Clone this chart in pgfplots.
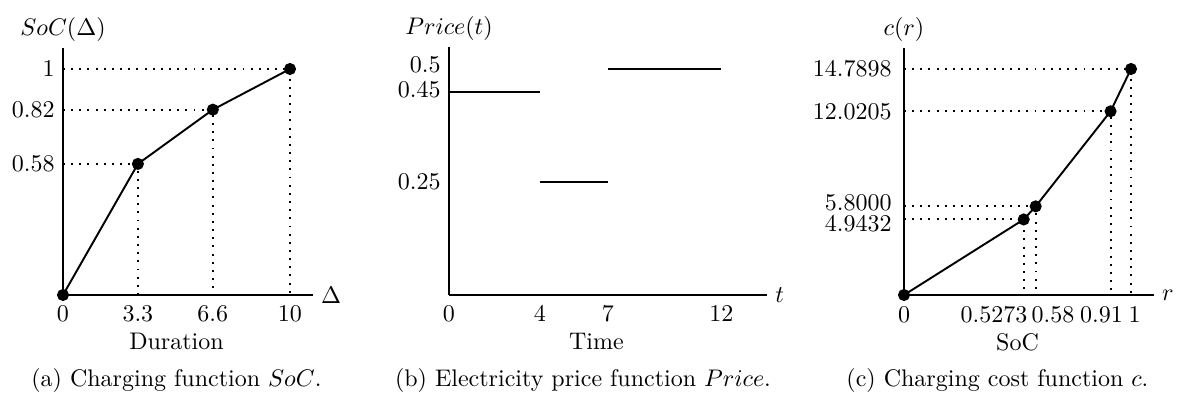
\documentclass[border=0pt]{standalone}
\usepackage{pgfplots}
\pgfplotsset{compat=1.18}

\pgfplotsset{
  fnplot/.style={
    axis lines=left,
    axis line style={-,line width=0.9pt},
    major tick length=0pt,
    clip=false,
    xmin=0, ymin=0,
    anchor=south west,
    every axis plot/.append style={line width=0.8pt},
    xticklabel style={yshift=-1pt},
    xlabel style={at={(ticklabel cs:0.4545)},anchor=north,yshift=2pt},
  },
}
\tikzset{
  guide/.style={line width=0.8pt,dash pattern=on 0.8pt off 2.6pt},
  pts/.style={mark=*,mark size=2.1pt,black},
  % hand-placed tick labels for panel (c)
  xl/.style={inner sep=0pt,yshift=-11.5pt},
  yl/.style={inner sep=0pt,anchor=east,xshift=-5pt},
}

\begin{document}
\begin{tikzpicture}
\useasboundingbox (0,0) rectangle (490.83pt,167.08pt);

% (a) charging function
\begin{axis}[fnplot,
  at={(26.25pt,44.17pt)},
  x=9.458pt, y=94.17pt,
  xmax=11, ymax=1.093,
  xtick={0,3.3,6.6,10},
  ytick={0.58,0.82,1},
  yticklabels={0.58,0.82,1},
  xlabel={Duration},
]
  \addplot[guide] coordinates {(0,0.58) (3.3,0.58) (3.3,0)};
  \addplot[guide] coordinates {(0,0.82) (6.6,0.82) (6.6,0)};
  \addplot[guide] coordinates {(0,1) (10,1) (10,0)};
  \addplot[pts] coordinates {(0,0) (3.3,0.58) (6.6,0.82) (10,1)};
  \node[anchor=west] at (rel axis cs:1,0) {$\Delta$};
  \node at (rel axis cs:0,1) [yshift=7.6pt] {$SoC(\Delta)$};
\end{axis}

% (b) electricity price
\begin{axis}[fnplot,
  at={(187.08pt,44.17pt)},
  x=9.458pt, y=188.3pt,
  xmax=14, ymax=0.549,
  xtick={0,4,7,12},
  ytick={0.25,0.45,0.5},
  yticklabels={0.25,\raisebox{2pt}{0.45},\raisebox{4pt}{0.5}},
  xlabel={Time},
  xlabel style={at={(ticklabel cs:0.464)}},
]
  \addplot[black] coordinates {(0,0.45) (4,0.45)};
  \addplot[black] coordinates {(4,0.25) (7,0.25)};
  \addplot[black] coordinates {(7,0.5) (12,0.5)};
  \node[anchor=west] at (rel axis cs:1,0) {$t$};
  \node at (rel axis cs:0,1) [yshift=7.6pt] {$Price(t)$};
\end{axis}

% (c) charging cost
\begin{axis}[fnplot,
  at={(376.67pt,44.17pt)},
  x=94.58pt, y=6.367pt,
  xmax=1.1, ymax=16.17,
  xtick=\empty, ytick=\empty,
]
  \addplot[guide] coordinates {(0,4.9432) (0.5273,4.9432) (0.5273,0)};
  \addplot[guide] coordinates {(0,5.8) (0.58,5.8) (0.58,0)};
  \addplot[guide] coordinates {(0,12.0205) (0.91,12.0205) (0.91,0)};
  \addplot[guide] coordinates {(0,14.7898) (1,14.7898) (1,0)};
  \addplot[pts] coordinates {(0,0) (0.5273,4.9432) (0.58,5.8) (0.91,12.0205) (1,14.7898)};
  \node[xl,anchor=base] at (axis cs:0,0) {0};
  \node[xl,anchor=base east,xshift=1.7pt] at (axis cs:0.5273,0) {0.5273};
  \node[xl,anchor=base west,xshift=-1.9pt] at (axis cs:0.58,0) {0.58};
  \node[xl,anchor=base,xshift=-3.75pt] at (axis cs:0.91,0) {0.91};
  \node[xl,anchor=base,xshift=1.5pt] at (axis cs:1,0) {1};
  \node[yl] at (axis cs:0,14.7898) {14.7898};
  \node[yl] at (axis cs:0,12.0205) {12.0205};
  \node[yl,yshift=1.4pt] at (axis cs:0,5.8) {5.8000};
  \node[yl,yshift=-1.6pt] at (axis cs:0,4.9432) {4.9432};
  \node[yshift=-19.8pt] at (axis cs:0.5,0) {SoC};
  \node[anchor=west] at (rel axis cs:1,0) {$r$};
  \node at (rel axis cs:0,1) [yshift=7.6pt] {$c(r)$};
\end{axis}

\node at (73.5pt,8.75pt) {(a) Charging function $SoC$.};
\node at (242.9pt,8.75pt) {(b) Electricity price function $Price$.};
\node at (415.6pt,8.75pt) {(c) Charging cost function $c$.};
\end{tikzpicture}
\end{document}
